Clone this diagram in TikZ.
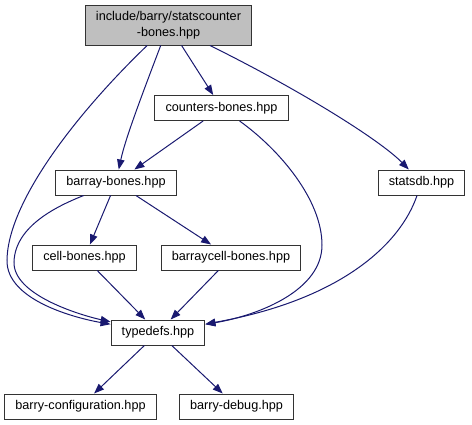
\documentclass[tikz,border=0pt]{standalone}
\usepackage{fontspec}
\setmainfont{Liberation Sans}
\usetikzlibrary{arrows.meta}
\definecolor{edgeblue}{HTML}{191970}
\definecolor{headgray}{HTML}{BFBFBF}

\begin{document}
\begin{tikzpicture}[x=0.75pt, y=-0.75pt,
        file/.style={shape=rectangle, draw=black!80, line width=0.75pt, font=\fontsize{9.5}{12}\selectfont, inner xsep=8pt, inner ysep=0pt, minimum height=18.75pt},
        dep/.style={draw=edgeblue, line width=0.75pt, -{Triangle[length=7.5pt, width=5.6pt]}}]
        \useasboundingbox (0,0) rectangle (472,425);

        \node[file, fill=headgray, align=center, minimum height=30pt] (top) at (168.5,25) {include/barry/statscounter\\-bones.hpp};
        \node[file] (counters) at (221.5,108) {counters-bones.hpp};
        \node[file] (barray) at (116,182.5) {barray-bones.hpp};
        \node[file] (statsdb) at (421.5,182.5) {statsdb.hpp};
        \node[file] (cell) at (84.5,257.5) {cell-bones.hpp};
        \node[file] (barraycell) at (231,257.5) {barraycell-bones.hpp};
        \node[file] (typedefs) at (158,332.5) {typedefs.hpp};
        \node[file] (config) at (80.5,406.5) {barry-configuration.hpp};
        \node[file] (debug) at (236.5,406.5) {barry-debug.hpp};

        \path [dep] (top) .. controls (80,110) and (8,200) .. (7,260) .. controls (6,300) and (75,318) .. (typedefs);
        \path [dep] (top) .. controls (140,100) and (125,140) .. (barray);
        \path [dep] (top) -- (counters);
        \path [dep] (top) .. controls (300,90) and (380,140) .. (statsdb);

        \path [dep] (counters) -- (barray);
        \path [dep] (counters) .. controls (280,150) and (322,200) .. (322,245) .. controls (322,290) and (260,315) .. (typedefs);

        \path [dep] (barray) .. controls (60,205) and (15,225) .. (14,262) .. controls (13,295) and (80,315) .. (typedefs);
        \path [dep] (barray) -- (cell);
        \path [dep] (barray) -- (barraycell);

        \path [dep] (statsdb) .. controls (400,245) and (340,300) .. (typedefs);
        \path [dep] (cell) -- (typedefs);
        \path [dep] (barraycell) -- (typedefs);

        \path [dep] (typedefs) -- (config);
        \path [dep] (typedefs) -- (debug);
\end{tikzpicture}
\end{document}
